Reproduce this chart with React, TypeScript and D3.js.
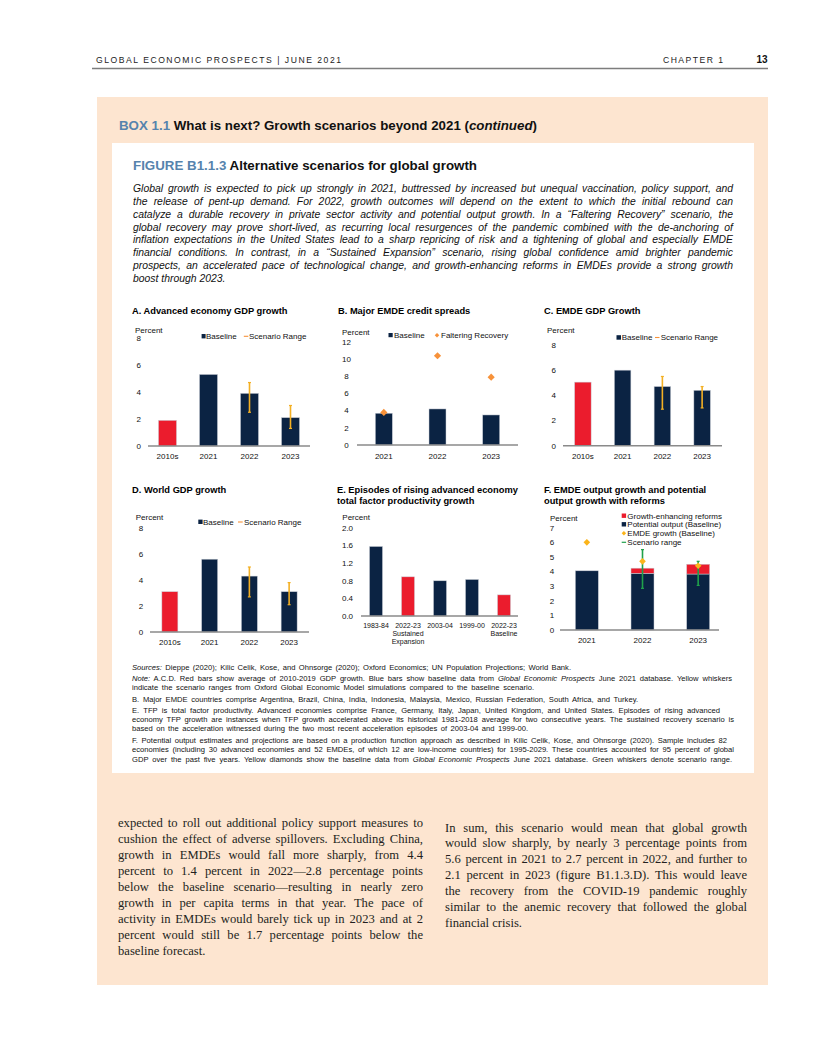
import React, { useRef, useLayoutEffect } from "react";
import * as d3 from "d3";

// ---------------- DATA ----------------
const aCategories = ["2010s", "2021", "2022", "2023"];
const aValues = [1.9, 5.3, 3.9, 2.1];
const aRangeLow: (number | null)[] = [null, null, 2.5, 1.3];
const aRangeHigh: (number | null)[] = [null, null, 4.7, 3.0];
const aTicks = [0, 2, 4, 6, 8];

const bCategories = ["2021", "2022", "2023"];
const bBaseline = [3.7, 4.2, 3.5];
const bFaltering = [3.8, 10.4, 7.9];
const bTicks = [0, 2, 4, 6, 8, 10, 12];

const cCategories = ["2010s", "2021", "2022", "2023"];
const cValues = [5.05, 6.0, 4.7, 4.4];
const cRangeLow: (number | null)[] = [null, null, 2.9, 3.0];
const cRangeHigh: (number | null)[] = [null, null, 5.5, 4.7];
const cTicks = [0, 2, 4, 6, 8];

const dCategories = ["2010s", "2021", "2022", "2023"];
const dValues = [3.1, 5.6, 4.3, 3.1];
const dRangeLow: (number | null)[] = [null, null, 2.7, 2.1];
const dRangeHigh: (number | null)[] = [null, null, 5.0, 3.8];
const dTicks = [0, 2, 4, 6, 8];

const eCategories = ["1983-84", "2022-23 SE", "2003-04", "1999-00", "2022-23 B"];
const eLabels = [["1983-84"], ["2022-23", "Sustained", "Expansion"], ["2003-04"], ["1999-00"], ["2022-23", "Baseline"]];
const eValues = [1.58, 0.89, 0.8, 0.83, 0.48];
const eIsScenario = [false, true, false, false, true];
const eTicks = [0, 0.4, 0.8, 1.2, 1.6, 2.0];

const fCategories = ["2021", "2022", "2023"];
const fPotential = [4.05, 3.88, 3.83];
const fReforms = [0, 0.35, 0.67];
const fGrowth = [6.0, 4.7, 4.4];
const fRangeLow: (number | null)[] = [null, 2.85, 3.05];
const fRangeHigh: (number | null)[] = [null, 5.5, 4.7];
const fTicks = [0, 1, 2, 3, 4, 5, 6, 7];

// ---------------- TEXT ----------------
const introLines = [
  "Global growth is expected to pick up strongly in 2021, buttressed by increased but unequal vaccination, policy support, and",
  "the release of pent-up demand. For 2022, growth outcomes will depend on the extent to which the initial rebound can",
  "catalyze a durable recovery in private sector activity and potential output growth. In a \u201cFaltering Recovery\u201d scenario, the",
  "global recovery may prove short-lived, as recurring local resurgences of the pandemic combined with the de-anchoring of",
  "inflation expectations in the United States lead to a sharp repricing of risk and a tightening of global and especially EMDE",
  "financial conditions. In contrast, in a \u201cSustained Expansion\u201d scenario, rising global confidence amid brighter pandemic",
  "prospects, an accelerated pace of technological change, and growth-enhancing reforms in EMDEs provide a strong growth",
  "boost through 2023.",
];

const leftBody = [
  "expected to roll out additional policy support measures to",
  "cushion the effect of adverse spillovers. Excluding China,",
  "growth in EMDEs would fall more sharply, from 4.4",
  "percent to 1.4 percent in 2022\u20142.8 percentage points",
  "below the baseline scenario\u2014resulting in nearly zero",
  "growth in per capita terms in that year. The pace of",
  "activity in EMDEs would barely tick up in 2023 and at 2",
  "percent would still be 1.7 percentage points below the",
  "baseline forecast.",
];
const rightBody = [
  "In sum, this scenario would mean that global growth",
  "would slow sharply, by nearly 3 percentage points from",
  "5.6 percent in 2021 to 2.7 percent in 2022, and further to",
  "2.1 percent in 2023 (figure B1.1.3.D). This would leave",
  "the recovery from the COVID-19 pandemic roughly",
  "similar to the anemic recovery that followed the global",
  "financial crisis.",
];

// ---------------- STYLE ----------------
const NAVY = "#0b2343";
const RED = "#eb1c2d";
const GOLD = "#f3b024";
const ORANGE = "#f7923a";
const YELLOW = "#fbb41a";
const GREEN = "#20a14b";
const PEACH = "#fde5d0";
const BLUE = "#5683ad";
const SANS = "'Liberation Sans', Arial, sans-serif";
const SERIF = "'Liberation Serif', 'Times New Roman', serif";

function JText({ x, y, width, size, family, italic, weight, fill = "#000", justify = true, anchor, children }: any) {
  const ref = useRef<SVGTextElement>(null);
  useLayoutEffect(() => {
    const el = ref.current;
    if (!el || !justify || !width) return;
    el.style.wordSpacing = "0px";
    const natural = el.getComputedTextLength();
    const spaces = ((el.textContent || "").match(/ /g) || []).length;
    if (spaces > 0) el.style.wordSpacing = `${(width - natural) / spaces}px`;
  });
  return (
    <text
      ref={ref}
      x={x}
      y={y}
      fontSize={size}
      fontFamily={family}
      fontStyle={italic ? "italic" : "normal"}
      fontWeight={weight || "normal"}
      fill={fill}
      textAnchor={anchor}
    >
      {children}
    </text>
  );
}

const diamondPath = (s: number) => d3.symbol().type(d3.symbolSquare).size(s)() as string;

type Series = { values: number[]; base?: number[]; color: (i: number) => string };

function BarPanel(props: {
  categories: string[];
  xRange: [number, number];
  axis: [number, number];
  y0: number;
  yTop: number;
  yMax: number;
  ticks: number[];
  tickX: number;
  fmt?: (v: number) => string;
  barW: number;
  series: Series[];
  whiskers?: { low: (number | null)[]; high: (number | null)[]; color: string };
  diamonds?: { values: number[]; color: string; size: number };
  labelY: number;
  labels?: string[][];
  labelSize?: number;
  labelGap?: number;
}) {
  const x = d3.scaleBand<string>().domain(props.categories).range(props.xRange).padding(0);
  const y = d3.scaleLinear().domain([0, props.yMax]).range([props.y0, props.yTop]);
  const fmt = props.fmt || ((v: number) => String(v));
  const cx = (c: string) => (x(c) as number) + x.bandwidth() / 2;
  return (
    <g>
      {props.ticks.map((t) => (
        <text key={t} x={props.tickX} y={y(t)} dy="0.35em" textAnchor="middle" fontSize={8} fontFamily={SANS} fill="#111">
          {fmt(t)}
        </text>
      ))}
      {props.series.map((s, si) =>
        props.categories.map((c, i) => {
          const base = s.base ? s.base[i] : 0;
          const v = s.values[i];
          if (!v) return null;
          return (
            <rect
              key={`${si}-${c}`}
              x={cx(c) - props.barW / 2}
              y={y(base + v)}
              width={props.barW}
              height={y(base) - y(base + v)}
              fill={s.color(i)}
              stroke="#c9ced6"
              strokeWidth={0.5}
            />
          );
        })
      )}
      <line x1={props.axis[0]} x2={props.axis[1]} y1={props.y0} y2={props.y0} stroke="#8a8a8a" strokeWidth={1.6} />
      {props.whiskers &&
        props.categories.map((c, i) => {
          const lo = props.whiskers!.low[i];
          const hi = props.whiskers!.high[i];
          if (lo == null || hi == null) return null;
          const col = props.whiskers!.color;
          return (
            <g key={`w-${c}`}>
              <line x1={cx(c)} x2={cx(c)} y1={y(lo)} y2={y(hi)} stroke={col} strokeWidth={1.6} />
              <line x1={cx(c) - 1.5} x2={cx(c) + 1.5} y1={y(lo)} y2={y(lo)} stroke={col} strokeWidth={1.2} />
              <line x1={cx(c) - 1.5} x2={cx(c) + 1.5} y1={y(hi)} y2={y(hi)} stroke={col} strokeWidth={1.2} />
            </g>
          );
        })}
      {props.diamonds &&
        props.categories.map((c, i) => (
          <path
            key={`d-${c}`}
            d={diamondPath(props.diamonds!.size)}
            transform={`translate(${cx(c)},${y(props.diamonds!.values[i])}) rotate(45)`}
            fill={props.diamonds!.color}
          />
        ))}
      {props.categories.map((c, i) => {
        const lines = props.labels ? props.labels[i] : [c];
        return (
          <text key={`l-${c}`} textAnchor="middle" fontSize={props.labelSize || 8} fontFamily={SANS} fill="#111">
            {lines.map((ln, k) => (
              <tspan key={k} x={cx(c)} y={props.labelY + k * (props.labelGap || 8.2)}>
                {ln}
              </tspan>
            ))}
          </text>
        );
      })}
    </g>
  );
}

function PanelTitle({ x, y, lines }: { x: number; y: number; lines: string[] }) {
  return (
    <text fontSize={9.3} fontWeight="bold" fontFamily={SANS} fill="#000">
      {lines.map((l, i) => (
        <tspan key={i} x={x} y={y + i * 11.8}>
          {l}
        </tspan>
      ))}
    </text>
  );
}

function Small({ x, y, children, anchor }: any) {
  return (
    <text x={x} y={y} fontSize={8} fontFamily={SANS} fill="#111" textAnchor={anchor}>
      {children}
    </text>
  );
}

export default function App() {
  const redFirst = (cats: string[]) => (i: number) => (cats[i] === "2010s" ? RED : NAVY);

  const introBase = 192;
  const introGap = 12.86;
  const noteX = 132;
  const noteSize = 7.6;

  return (
    <svg
      width={816}
      height={1056}
      viewBox="0 0 816 1056"
      style={{ position: "absolute", left: 0, top: 0, background: "#fff" }}
    >
      <rect x={0} y={0} width={816} height={1056} fill="#fff" />
      {/* Header */}
      <text x={96} y={63} fontSize={8.6} fontFamily={SANS} fill="#222" textLength={245} lengthAdjust="spacing">
        GLOBAL ECONOMIC PROSPECTS | JUNE 2021
      </text>
      <text x={663} y={63} fontSize={8.6} fontFamily={SANS} fill="#222" textLength={60} lengthAdjust="spacing">
        CHAPTER 1
      </text>
      <text x={756.5} y={63} fontSize={10} fontWeight="bold" fontFamily={SANS} fill="#111">
        13
      </text>
      <line x1={92} x2={768} y1={68.5} y2={68.5} stroke="#7d7d7d" strokeWidth={1.6} />

      {/* Box */}
      <rect x={97} y={97} width={671} height={888} fill={PEACH} />
      <text x={119} y={130} fontSize={12.6} fontWeight="bold" fontFamily={SANS} textLength={418} lengthAdjust="spacingAndGlyphs">
        <tspan fill={BLUE}>BOX 1.1 </tspan>
        <tspan fill="#111">What is next? Growth scenarios beyond 2021 (</tspan>
        <tspan fill="#111" fontStyle="italic">continued</tspan>
        <tspan fill="#111">)</tspan>
      </text>

      <rect x={112} y={143} width={642} height={630} fill="#fff" />
      <text x={133} y={169.8} fontSize={12.6} fontWeight="bold" fontFamily={SANS} textLength={344} lengthAdjust="spacingAndGlyphs">
        <tspan fill={BLUE}>FIGURE B1.1.3 </tspan>
        <tspan fill="#111">Alternative scenarios for global growth</tspan>
      </text>

      {introLines.map((l, i) => (
        <JText
          key={i}
          x={133}
          y={introBase + i * introGap}
          width={600}
          justify={i < introLines.length - 1}
          size={10.4}
          family={SANS}
          italic
          fill="#111"
        >
          {l}
        </JText>
      ))}

      {/* Panel A */}
      <PanelTitle x={132} y={313.5} lines={["A. Advanced economy GDP growth"]} />
      <Small x={135} y={333}>Percent</Small>
      <rect x={201.6} y={334} width={4} height={4.4} fill={NAVY} />
      <Small x={206} y={339}>Baseline</Small>
      <line x1={243.8} x2={248.3} y1={336.3} y2={336.3} stroke={ORANGE} strokeWidth={1.1} />
      <Small x={249} y={339}>Scenario Range</Small>
      <BarPanel
        categories={aCategories}
        xRange={[147, 311]}
        axis={[148, 310]}
        y0={446}
        yTop={338}
        yMax={8}
        ticks={aTicks}
        tickX={138.7}
        barW={18}
        series={[{ values: aValues, color: redFirst(aCategories) }]}
        whiskers={{ low: aRangeLow, high: aRangeHigh, color: GOLD }}
        labelY={459}
      />

      {/* Panel B */}
      <PanelTitle x={338} y={313.5} lines={["B. Major EMDE credit spreads"]} />
      <Small x={342} y={334.5}>Percent</Small>
      <rect x={388.5} y={333} width={4.2} height={4.2} fill={NAVY} />
      <Small x={394} y={338}>Baseline</Small>
      <path d={diamondPath(10)} transform="translate(437,335.2) rotate(45)" fill={ORANGE} />
      <Small x={441} y={338}>Faltering Recovery</Small>
      <BarPanel
        categories={bCategories}
        xRange={[357, 518]}
        axis={[357, 518]}
        y0={445}
        yTop={342}
        yMax={12}
        ticks={bTicks}
        tickX={346.5}
        barW={17}
        series={[{ values: bBaseline, color: () => NAVY }]}
        diamonds={{ values: bFaltering, color: ORANGE, size: 26 }}
        labelY={458.5}
      />

      {/* Panel C */}
      <PanelTitle x={544} y={313.5} lines={["C. EMDE GDP Growth"]} />
      <Small x={547} y={333}>Percent</Small>
      <rect x={616.5} y={335.2} width={4.5} height={4.5} fill={NAVY} />
      <Small x={621.7} y={340.2}>Baseline</Small>
      <line x1={655} x2={659.5} y1={337.5} y2={337.5} stroke={ORANGE} strokeWidth={1.1} />
      <Small x={660.7} y={340.2}>Scenario Range</Small>
      <BarPanel
        categories={cCategories}
        xRange={[563, 722]}
        axis={[563, 722]}
        y0={445.7}
        yTop={345}
        yMax={8}
        ticks={cTicks}
        tickX={553.7}
        barW={16.5}
        series={[{ values: cValues, color: redFirst(cCategories) }]}
        whiskers={{ low: cRangeLow, high: cRangeHigh, color: GOLD }}
        labelY={458.5}
      />

      {/* Panel D */}
      <PanelTitle x={132} y={492.5} lines={["D. World GDP growth"]} />
      <Small x={135.7} y={520}>Percent</Small>
      <rect x={198.3} y={519.6} width={4.3} height={4.4} fill={NAVY} />
      <Small x={203} y={524.6}>Baseline</Small>
      <line x1={238} x2={242.7} y1={522} y2={522} stroke={ORANGE} strokeWidth={1.1} />
      <Small x={244} y={524.6}>Scenario Range</Small>
      <BarPanel
        categories={dCategories}
        xRange={[150, 309]}
        axis={[150, 309]}
        y0={632}
        yTop={528}
        yMax={8}
        ticks={dTicks}
        tickX={141}
        barW={16}
        series={[{ values: dValues, color: redFirst(dCategories) }]}
        whiskers={{ low: dRangeLow, high: dRangeHigh, color: GOLD }}
        labelY={645}
      />

      {/* Panel E */}
      <PanelTitle x={337} y={492.5} lines={["E. Episodes of rising advanced economy", "total factor productivity growth"]} />
      <Small x={342.3} y={520}>Percent</Small>
      <BarPanel
        categories={eCategories}
        xRange={[360, 520]}
        axis={[361, 518]}
        y0={616}
        yTop={528}
        yMax={2}
        ticks={eTicks}
        tickX={347.5}
        fmt={(v) => v.toFixed(1)}
        barW={13}
        series={[{ values: eValues, color: (i) => (eIsScenario[i] ? RED : NAVY) }]}
        labelY={627.6}
        labels={eLabels}
        labelSize={7}
        labelGap={8.2}
      />

      {/* Panel F */}
      <PanelTitle x={544} y={492.5} lines={["F. EMDE output growth and potential", "output growth with reforms"]} />
      <Small x={550} y={521}>Percent</Small>
      <rect x={621.7} y={513.5} width={4.4} height={4.4} fill={RED} />
      <Small x={627.3} y={518.5}>Growth-enhancing reforms</Small>
      <rect x={621.7} y={522.1} width={4.4} height={4.4} fill={NAVY} />
      <Small x={627.3} y={527.1}>Potential output (Baseline)</Small>
      <path d={diamondPath(10)} transform="translate(623.9,533.3) rotate(45)" fill={YELLOW} />
      <Small x={627.3} y={536.1}>EMDE growth (Baseline)</Small>
      <line x1={621.7} x2={626.1} y1={542.3} y2={542.3} stroke={GREEN} strokeWidth={1.2} />
      <Small x={627.3} y={545.1}>Scenario range</Small>
      <BarPanel
        categories={fCategories}
        xRange={[559, 726]}
        axis={[560, 719]}
        y0={630}
        yTop={527.7}
        yMax={7}
        ticks={fTicks}
        tickX={552}
        barW={23}
        series={[
          { values: fPotential, color: () => NAVY },
          { values: fReforms, base: fPotential, color: () => RED },
        ]}
        whiskers={{ low: fRangeLow, high: fRangeHigh, color: GREEN }}
        diamonds={{ values: fGrowth, color: YELLOW, size: 22 }}
        labelY={643}
      />

      {/* Notes */}
      <JText x={noteX} y={669.5} width={439} size={noteSize} family={SANS} fill="#111">
        <tspan fontStyle="italic">Sources:</tspan>
        {" Dieppe (2020); Kilic Celik, Kose, and Ohnsorge (2020); Oxford Economics; UN Population Projections; World Bank."}
      </JText>
      <JText x={noteX} y={681} width={600} size={noteSize} family={SANS} fill="#111">
        <tspan fontStyle="italic">Note:</tspan>
        {" A.C.D. Red bars show average of 2010-2019 GDP growth. Blue bars show baseline data from "}
        <tspan fontStyle="italic">Global Economic Prospects</tspan>
        {" June 2021 database. Yellow whiskers"}
      </JText>
      <JText x={noteX} y={690.2} width={402} size={noteSize} family={SANS} fill="#111">
        indicate the scenario ranges from Oxford Global Economic Model simulations compared to the baseline scenario.
      </JText>
      <JText x={noteX} y={702} width={506} size={noteSize} family={SANS} fill="#111">
        B. Major EMDE countries comprise Argentina, Brazil, China, India, Indonesia, Malaysia, Mexico, Russian Federation, South Africa, and Turkey.
      </JText>
      <JText x={noteX} y={712.7} width={588} size={noteSize} family={SANS} fill="#111">
        E. TFP is total factor productivity. Advanced economies comprise France, Germany, Italy, Japan, United Kingdom, and United States. Episodes of rising advanced
      </JText>
      <JText x={noteX} y={722} width={602} size={noteSize} family={SANS} fill="#111">
        economy TFP growth are instances when TFP growth accelerated above its historical 1981-2018 average for two consecutive years. The sustained recovery scenario is
      </JText>
      <JText x={noteX} y={731} width={396} size={noteSize} family={SANS} fill="#111">
        based on the acceleration witnessed during the two most recent acceleration episodes of 2003-04 and 1999-00.
      </JText>
      <JText x={noteX} y={742.6} width={595} size={noteSize} family={SANS} fill="#111">
        F. Potential output estimates and projections are based on a production function approach as described in Kilic Celik, Kose, and Ohnsorge (2020). Sample includes 82
      </JText>
      <JText x={noteX} y={752} width={602} size={noteSize} family={SANS} fill="#111">
        economies (including 30 advanced economies and 52 EMDEs, of which 12 are low-income countries) for 1995-2029. These countries accounted for 95 percent of global
      </JText>
      <JText x={noteX} y={761.5} width={600} size={noteSize} family={SANS} fill="#111">
        {"GDP over the past five years. Yellow diamonds show the baseline data from "}
        <tspan fontStyle="italic">Global Economic Prospects</tspan>
        {" June 2021 database. Green whiskers denote scenario range."}
      </JText>

      {/* Body text */}
      {leftBody.map((l, i) => (
        <JText
          key={`lb${i}`}
          x={118}
          y={826.5 + i * 16}
          width={305}
          justify={i < leftBody.length - 1}
          size={12.6}
          family={SERIF}
          fill="#231f20"
        >
          {l}
        </JText>
      ))}
      {rightBody.map((l, i) => (
        <JText
          key={`rb${i}`}
          x={445}
          y={831.5 + i * 15.95}
          width={302}
          justify={i < rightBody.length - 1}
          size={12.6}
          family={SERIF}
          fill="#231f20"
        >
          {l}
        </JText>
      ))}
    </svg>
  );
}
